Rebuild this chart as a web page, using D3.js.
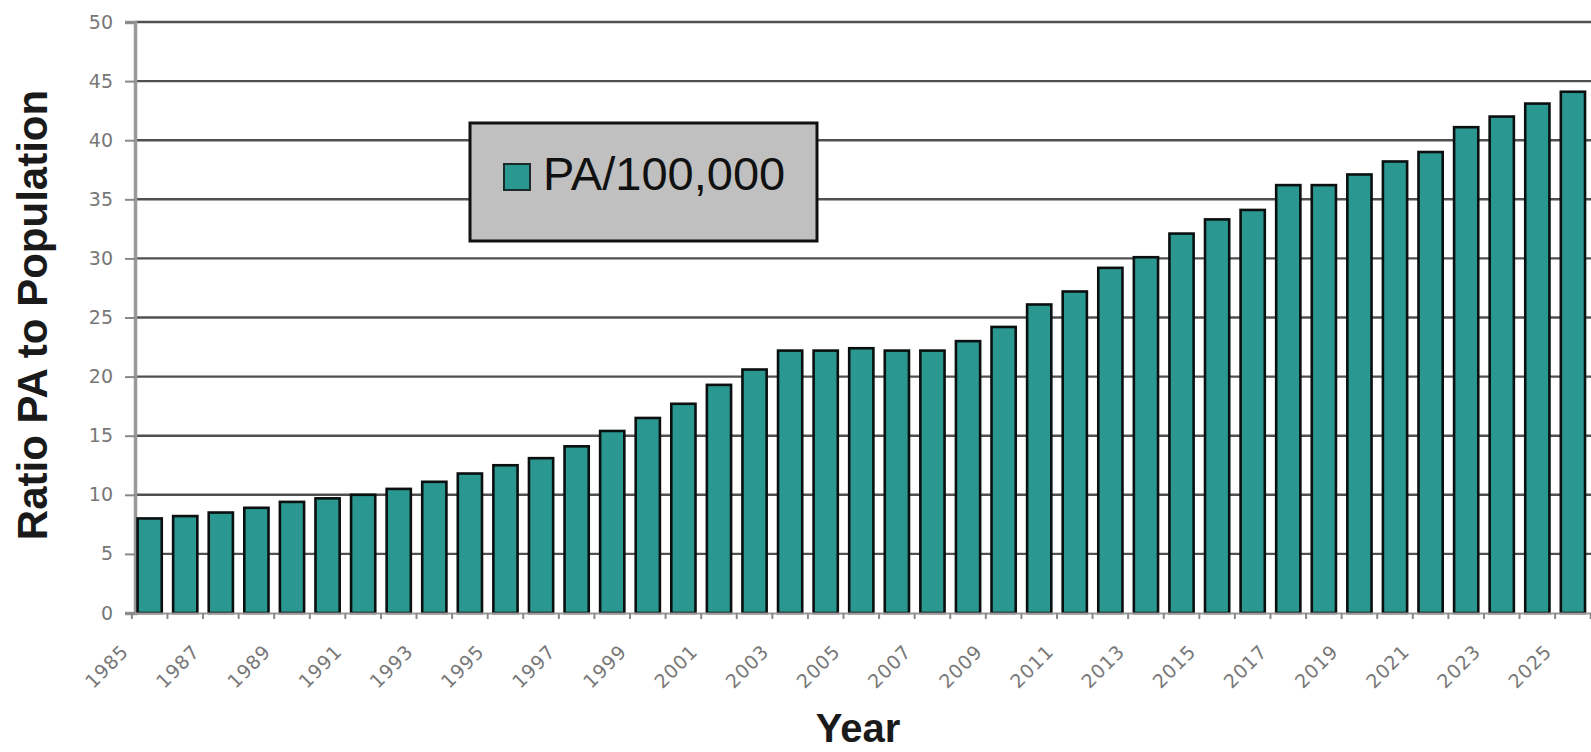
<!DOCTYPE html>
<html>
<head>
<meta charset="utf-8">
<script src="https://cdn.jsdelivr.net/npm/d3@7"></script>
<style>
  html, body { margin: 0; padding: 0; background: #fff; }
  svg { display: block; }
</style>
</head>
<body>
<svg id="chart" width="1591" height="752"></svg>
<script>
const years = d3.range(1985, 2026).map(String);
const values = [
  8.0, 8.2, 8.5, 8.9, 9.4, 9.7, 10.0, 10.5, 11.1, 11.8,
  12.5, 13.1, 14.1, 15.4, 16.5, 17.7, 19.3, 20.6, 22.2, 22.2,
  22.4, 22.2, 22.2, 23.0, 24.2, 26.1, 27.2, 29.2, 30.1, 32.1,
  33.3, 34.1, 36.2, 36.2, 37.1, 38.2, 39.0, 41.1, 42.0, 43.1, 44.1
];
const yTicks = [0, 5, 10, 15, 20, 25, 30, 35, 40, 45, 50];
const xTickLabels = years.filter((d, i) => i % 2 === 0);
const seriesName = "PA/100,000";
const yTitle = "Ratio PA to Population";
const xTitle = "Year";

const svg = d3.select("#chart");
const pLeft = 135, pRight = 1591, pTop = 22, pBottom = 613;

const x = d3.scaleBand().domain(years).range([pLeft, pRight]).paddingInner(0.32).paddingOuter(0.12).align(0.3);
const y = d3.scaleLinear().domain([0, 50]).range([pBottom, pTop]);

const font = "'Liberation Sans', Arial, Helvetica, sans-serif";
const tickFont = "'DejaVu Sans', Verdana, sans-serif";

// gridlines
svg.append("g").selectAll("line").data(yTicks.filter(d => d > 0)).join("line")
  .attr("x1", pLeft).attr("x2", pRight)
  .attr("y1", d => y(d)).attr("y2", d => y(d))
  .attr("stroke", "#505050").attr("stroke-width", 2.4);

// y axis
const yAxis = d3.axisLeft(y).tickValues(yTicks).tickSize(10).tickPadding(12).tickFormat(d3.format("d"));
const gy = svg.append("g").attr("transform", `translate(${pLeft},0)`).call(yAxis);
gy.select(".domain").attr("stroke", "#999").attr("stroke-width", 3.5);
gy.selectAll(".tick line").attr("stroke", "#888").attr("stroke-width", 2);
gy.selectAll(".tick text").attr("fill", "#777").attr("font-family", tickFont).attr("font-size", 19);

// bars
svg.append("g").selectAll("rect").data(values).join("rect")
  .attr("x", (d, i) => x(years[i]))
  .attr("width", x.bandwidth())
  .attr("y", d => y(d))
  .attr("height", d => y(0) - y(d))
  .attr("fill", "#2a9790")
  .attr("stroke", "#0a0f0f")
  .attr("stroke-width", 2.6);

// x axis
const xAxis = d3.axisBottom(x).tickSize(0).tickFormat(d => xTickLabels.includes(d) ? d : "");
const gx = svg.append("g").attr("transform", `translate(0,${pBottom})`).call(xAxis);
gx.select(".domain").attr("stroke", "#999").attr("stroke-width", 2);
gx.selectAll(".tick text")
  .attr("fill", "#777").attr("font-family", tickFont).attr("font-size", 19)
  .attr("letter-spacing", 0.8)
  .attr("text-anchor", "end")
  .attr("transform", "translate(-20,40) rotate(-45)")
  .attr("dy", 0).attr("y", 0).attr("x", 0);

// category boundary ticks
const step = x.step();
const bounds = years.map(d => x(d) - x.paddingInner() * step * 0.5).concat([x(years[years.length - 1]) + x.bandwidth() + x.paddingInner() * step * 0.5]);
svg.append("g").selectAll("line").data(bounds).join("line")
  .attr("x1", d => d).attr("x2", d => d)
  .attr("y1", pBottom).attr("y2", pBottom + 6)
  .attr("stroke", "#888").attr("stroke-width", 2);

// axis titles
svg.append("text")
  .attr("transform", `translate(47,315) rotate(-90)`)
  .attr("text-anchor", "middle")
  .attr("font-family", font).attr("font-weight", "bold").attr("font-size", 42)
  .attr("fill", "#1a1a1a")
  .text(yTitle);

svg.append("text")
  .attr("x", 858).attr("y", 742)
  .attr("text-anchor", "middle")
  .attr("font-family", font).attr("font-weight", "bold").attr("font-size", 40)
  .attr("fill", "#1a1a1a")
  .text(xTitle);

// legend
const lg = svg.append("g");
lg.append("rect").attr("x", 470).attr("y", 123).attr("width", 347).attr("height", 118)
  .attr("fill", "#c0c0c0").attr("stroke", "#111").attr("stroke-width", 3);
lg.append("rect").attr("x", 504).attr("y", 164).attr("width", 26).attr("height", 26)
  .attr("fill", "#2a9790").attr("stroke", "#1a2a2a").attr("stroke-width", 2);
lg.append("text").attr("x", 543).attr("y", 190)
  .attr("font-family", font).attr("font-size", 47).attr("fill", "#111")
  .text(seriesName);
</script>
</body>
</html>
